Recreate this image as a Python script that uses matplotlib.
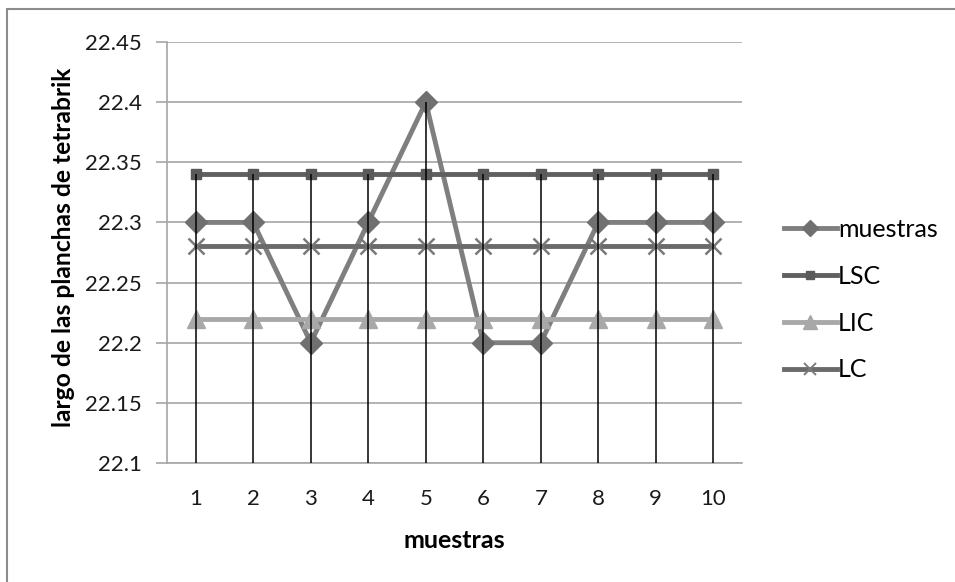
import matplotlib
matplotlib.use("Agg")
import matplotlib.pyplot as plt
from matplotlib.patches import Rectangle
from matplotlib.lines import Line2D
import numpy as np

plt.rcParams['font.family'] = ['Lato', 'DejaVu Sans']

muestra_ids = [1, 2, 3, 4, 5, 6, 7, 8, 9, 10]
muestras = [22.3, 22.3, 22.2, 22.3, 22.4, 22.2, 22.2, 22.3, 22.3, 22.3]
lsc = [22.34] * 10
lic = [22.22] * 10
lc = [22.28] * 10
y_ticks = [22.1, 22.15, 22.2, 22.25, 22.3, 22.35, 22.4, 22.45]
y_tick_labels = ["22.1", "22.15", "22.2", "22.25", "22.3", "22.35", "22.4", "22.45"]
series_names = ["muestras", "LSC", "LIC", "LC"]

W, H = 955, 582
fig = plt.figure(figsize=(W / 100, H / 100), dpi=100)
fig.patch.set_facecolor("white")

# outer chart-area frame
fig.patches.append(Rectangle((7 / W, -0.1), 1.2, 1 - 9 / H + 0.1,
                             transform=fig.transFigure, fill=False,
                             edgecolor="#8c8c8c", linewidth=1.5))

ax = fig.add_axes([167 / W, 1 - 463 / H, (742 - 167) / W, (463 - 42) / H])
ax.set_xlim(0.5, 10.5)
ax.set_ylim(22.1, 22.45)

grid_c = "#a6a6a6"
for s in ["top", "right"]:
    ax.spines[s].set_visible(False)
ax.spines["left"].set_color(grid_c)
ax.spines["bottom"].set_color(grid_c)
ax.spines["left"].set_linewidth(1.2)
ax.spines["bottom"].set_linewidth(1.2)

ax.set_yticks(y_ticks)
ax.set_yticklabels(y_tick_labels)
ax.yaxis.grid(True, color=grid_c, linewidth=1.2)
ax.set_axisbelow(True)
ax.tick_params(axis="y", length=8, width=1.2, color=grid_c, labelsize=16,
               labelcolor="#1a1a1a", pad=10)
ax.set_xticks(muestra_ids)
ax.tick_params(axis="x", length=0, labelsize=16, labelcolor="#1a1a1a", pad=19)

styles = [
    dict(color="#7f7f7f", marker="D", mfc="#707070", mec="#707070", ms=11, lms=8),
    dict(color="#606060", marker="s", mfc="#5a5a5a", mec="#5a5a5a", ms=6.5, lms=5.5),
    dict(color="#a8a8a8", marker="^", mfc="#a8a8a8", mec="#a8a8a8", ms=13, lms=9.5),
    dict(color="#6a6a6a", marker="x", mfc="none", mec="#7a7a7a", ms=12, lms=9),
]
handles = []
for vals, name, st in zip([muestras, lsc, lic, lc], series_names, styles):
    mew = 1.8 if st["marker"] == "x" else 1.0
    ax.plot(muestra_ids, vals, color=st["color"], linewidth=3.5,
            marker=st["marker"], markersize=st["ms"],
            markerfacecolor=st["mfc"], markeredgecolor=st["mec"],
            markeredgewidth=mew, zorder=3)
    handles.append(Line2D([], [], color=st["color"], linewidth=3.5,
                          marker=st["marker"], markersize=st["lms"],
                          markerfacecolor=st["mfc"], markeredgecolor=st["mec"],
                          markeredgewidth=1.4 if st["marker"] == "x" else 1.0))

# drop lines from the highest point at each sample down to the axis
tops = np.max(np.vstack([muestras, lsc, lic, lc]), axis=0)
ax.vlines(muestra_ids, 22.1, tops, color="black", linewidth=1.1, zorder=4)

ax.set_ylabel("largo de las planchas de tetrabrik", fontsize=17.7,
              fontweight="bold")
ax.yaxis.set_label_coords((75 - 167) / 575, (463 - 247.5) / 421)
ax.set_xlabel("muestras", fontsize=18, fontweight="bold", labelpad=14)

fig.legend(handles, series_names,
           loc="upper left", bbox_to_anchor=(774 / W, 1 - 208 / H),
           frameon=False, fontsize=18, handlelength=2.1,
           handletextpad=0.05, labelspacing=0.95, borderaxespad=0)

fig.savefig("out.png", dpi=100)
